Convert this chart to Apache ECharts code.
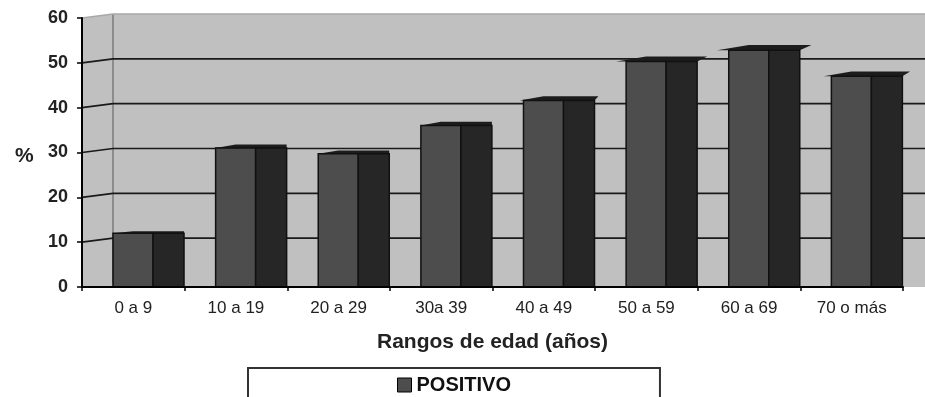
<!DOCTYPE html>
<html><head><meta charset="utf-8">
<script src="https://cdn.jsdelivr.net/npm/echarts@6/dist/echarts.min.js"></script>
<style>html,body{margin:0;padding:0;background:#fff}#c{width:925px;height:397px}</style>
</head><body><div id="c"></div>
<script>
const categories = ['0 a 9','10 a 19','20 a 29','30a 39','40 a 49','50 a 59','60 a 69','70 o más'];
const positivo = [12, 31, 29.7, 36, 41.6, 50.3, 52.8, 47];
const yTicks = [10, 20, 30, 40, 50, 60];
const seriesName = 'POSITIVO';
const xTitle = 'Rangos de edad (años)';
const yTitle = '%';

const FONT = 'Liberation Sans, Arial, sans-serif';
const chart = echarts.init(document.getElementById('c'), null, {renderer:'canvas'});

function renderWall(params, api){
  const cs = params.coordSys;
  const bw = api.size([1,0])[0];
  const dx = bw*0.302, dy = 4;
  const yb = api.coord([0,0])[1];
  const ytop = api.coord([0, yTicks[yTicks.length-1]])[1];
  const xl = cs.x, W = api.getWidth();
  const ch = [];
  ch.push({type:'polygon', shape:{points:[[xl,yb],[xl,ytop],[xl+dx,ytop-dy],[W,ytop-dy],[W,yb]]},
    style:{fill:'#c0c0c0'}});
  ch.push({type:'line', shape:{x1:xl+dx,y1:ytop-dy,x2:xl+dx,y2:yb-dy}, style:{stroke:'#8c8c8c',lineWidth:2}});
  yTicks.forEach(t=>{
    const y = api.coord([0,t])[1];
    const top = t === yTicks[yTicks.length-1];
    ch.push({type:'polyline', shape:{points:[[xl,y],[xl+dx,y-dy],[W,y-dy]]},
      style:{stroke: top ? '#a8a8a8' : '#1a1a1a', lineWidth: top ? 1.5 : 1.6, fill:null}});
  });
  return {type:'group', children:ch};
}

function renderBar(params, api){
  const i = api.value(0), v = api.value(1);
  const p0 = api.coord([i,0]), p1 = api.coord([i,v]);
  const bw = api.size([1,0])[0];
  const x0 = p0[0] - bw/2;
  const fl = x0 + bw*0.302, fr = x0 + bw*0.692, sr = x0 + bw*0.994;
  const yb = p0[1], yt = p1[1];
  const ext = Math.max(0, v-36)*0.7, h = 1 + v*0.08;
  return {type:'group', children:[
    {type:'polygon', shape:{points:[[fl-ext,yt],[fl+(fr-fl)*0.5,yt-h],[sr+ext,yt-h],[sr,yt],[fl,yt]]},
      style:{fill:'#1c1c1c'}},
    {type:'rect', shape:{x:fl,y:yt,width:fr-fl,height:yb-yt}, style:{fill:'#4d4d4d',stroke:'#111',lineWidth:1.5}},
    {type:'rect', shape:{x:fr,y:yt,width:sr-fr,height:yb-yt}, style:{fill:'#262626',stroke:'#111',lineWidth:1.5}}
  ]};
}

chart.setOption({
  animation:false,
  backgroundColor:'#ffffff',
  title:{text:yTitle, left:10, top:141, textStyle:{fontFamily:FONT,fontSize:21,fontWeight:'bold',color:'#222'}},
  grid:{left:82, right:22, top:18, bottom:110},
  legend:{
    data:[{name:seriesName, icon:'rect'}],
    left:248, top:368, padding:[7,149,20,149],
    borderColor:'#333', borderWidth:2, borderRadius:0,
    itemWidth:14, itemHeight:14,
    itemStyle:{color:'#4d4d4d', borderColor:'#000', borderWidth:1},
    textStyle:{fontFamily:FONT,fontSize:20,fontWeight:'bold',color:'#111'}
  },
  xAxis:{
    type:'category', data:categories, z:5,
    axisLine:{lineStyle:{color:'#000',width:2}},
    axisTick:{show:true,length:4,lineStyle:{color:'#000',width:1.5}},
    axisLabel:{fontFamily:FONT,fontSize:17,color:'#222',margin:13},
    name:xTitle, nameLocation:'middle', nameGap:45,
    nameTextStyle:{fontFamily:FONT,fontSize:21,fontWeight:'bold',color:'#222'}
  },
  yAxis:{
    type:'value', min:0, max:60, interval:10, z:5,
    axisLine:{show:true,lineStyle:{color:'#000',width:2}},
    axisTick:{show:true,length:5,lineStyle:{color:'#000',width:1.5}},
    axisLabel:{fontFamily:FONT,fontSize:18,fontWeight:'bold',color:'#222',margin:14},
    splitLine:{show:false}
  },
  series:[
    {type:'custom', name:'wall', z:1, clip:false, silent:true, renderItem:renderWall, data:[[0,0]]},
    {type:'custom', name:seriesName, z:2, clip:false, renderItem:renderBar,
      itemStyle:{color:'#4d4d4d'},
      encode:{x:0,y:1},
      data:positivo.map((v,i)=>[i,v])}
  ]
});
</script></body></html>
